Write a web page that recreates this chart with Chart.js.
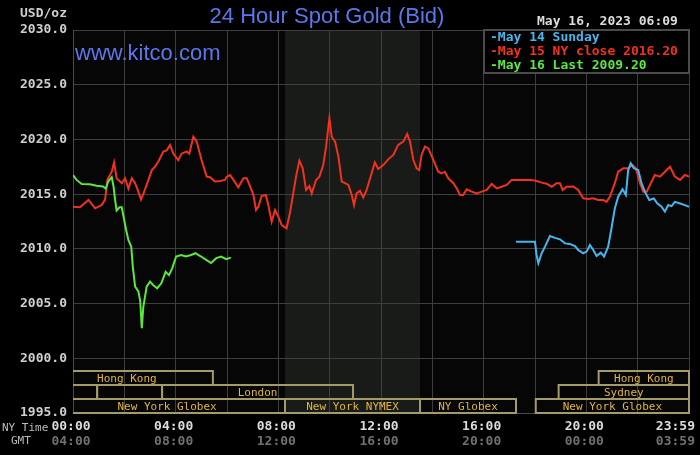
<!DOCTYPE html>
<html>
<head>
<meta charset="utf-8">
<title>24 Hour Spot Gold (Bid)</title>
<script src="https://cdn.jsdelivr.net/npm/chart.js@4.4.0/dist/chart.umd.min.js"></script>
<style>
  html, body { margin: 0; padding: 0; background: #000; }
  #wrap { position: relative; width: 700px; height: 455px; }
</style>
</head>
<body>
<div id="wrap"><canvas id="gold"></canvas></div>
<script>
// Times are NY time in hours (0 = 00:00, 24 = 23:59), values in USD/oz

const sundayTimes = [17.26, 18.0, 18.06, 18.13, 18.26, 18.39, 18.58, 18.78, 18.97, 19.17, 19.36, 19.56,
  19.68, 19.88, 20.01, 20.14, 20.27, 20.4, 20.56, 20.69, 20.85, 20.98, 21.11, 21.24, 21.41, 21.54,
  21.63, 21.73, 21.85, 22.02, 22.15, 22.28, 22.45, 22.63, 22.76, 22.93, 23.06, 23.19, 23.32, 23.45,
  23.65, 23.84, 24.0];
const sundayValues = [2010.66, 2010.66, 2009.44, 2008.68, 2009.6, 2010.2, 2011.17, 2011.0, 2010.87,
  2010.5, 2010.45, 2010.26, 2009.9, 2009.6, 2009.75, 2010.35, 2009.9, 2009.35, 2009.65, 2009.3,
  2010.2, 2011.88, 2013.7, 2014.77, 2015.44, 2014.92, 2017.2, 2017.82, 2017.36, 2017.2, 2016.0,
  2015.23, 2014.47, 2014.6, 2014.16, 2013.85, 2013.4, 2014.0, 2013.9, 2014.3, 2014.15, 2014.0, 2013.85];

const closeTimes = [0.0, 0.27, 0.6, 0.86, 1.12, 1.25, 1.34, 1.51, 1.6, 1.7, 1.9, 2.03, 2.16, 2.29, 2.42,
  2.55, 2.65, 2.77, 2.94, 3.07, 3.19, 3.33, 3.52, 3.65, 3.78, 3.91, 4.1, 4.23, 4.43, 4.53, 4.69, 4.82,
  5.01, 5.21, 5.34, 5.53, 5.73, 5.92, 5.99, 6.12, 6.25, 6.44, 6.64, 6.77, 6.9, 7.03, 7.13, 7.22, 7.35,
  7.51, 7.61, 7.74, 7.87, 8.0, 8.13, 8.32, 8.45, 8.56, 8.69, 8.82, 8.95, 9.08, 9.21, 9.3, 9.47, 9.6,
  9.75, 9.86, 9.99, 10.08, 10.21, 10.34, 10.47, 10.6, 10.73, 10.86, 10.95, 11.05, 11.18, 11.31, 11.44,
  11.57, 11.76, 11.89, 12.09, 12.28, 12.48, 12.67, 12.87, 13.02, 13.13, 13.26, 13.39, 13.49, 13.58,
  13.71, 13.84, 14.04, 14.23, 14.36, 14.49, 14.62, 14.82, 14.95, 15.08, 15.2, 15.34, 15.53, 15.73,
  15.92, 16.12, 16.31, 16.51, 16.7, 16.9, 17.09, 17.41, 17.78, 18.0, 18.26, 18.45, 18.65, 18.84,
  18.97, 19.08, 19.23, 19.49, 19.68, 19.88, 20.07, 20.27, 20.46, 20.66, 20.79, 20.92, 21.11, 21.24,
  21.44, 21.63, 21.8, 21.93, 22.09, 22.22, 22.35, 22.48, 22.67, 22.87, 23.06, 23.26, 23.45, 23.65,
  23.84, 24.0];
const closeValues = [2013.85, 2013.8, 2014.47, 2013.7, 2014.0, 2014.5, 2016.3, 2017.05, 2017.9, 2016.45,
  2016.0, 2016.45, 2015.5, 2016.45, 2016.0, 2015.2, 2014.5, 2015.2, 2016.3, 2017.2, 2017.5, 2018.0,
  2018.9, 2019.0, 2019.5, 2018.7, 2018.1, 2018.7, 2018.9, 2018.7, 2020.25, 2019.8, 2018.1, 2016.6,
  2016.55, 2016.15, 2016.2, 2016.3, 2016.6, 2016.75, 2016.3, 2015.63, 2016.45, 2016.45, 2015.7,
  2014.92, 2013.55, 2013.85, 2014.83, 2014.92, 2014.0, 2012.48, 2013.55, 2012.94, 2012.18, 2011.88,
  2013.25, 2014.77, 2016.6, 2018.06, 2017.36, 2015.38, 2015.74, 2015.07, 2016.3, 2016.6, 2017.66,
  2019.34, 2021.93, 2020.25, 2019.8, 2018.43, 2016.15, 2016.0, 2015.84, 2014.92, 2014.0, 2015.07,
  2015.3, 2014.7, 2015.38, 2016.4, 2017.9, 2017.3, 2017.66, 2018.18, 2018.58, 2019.5, 2019.8, 2020.5,
  2019.8, 2018.12, 2017.36, 2017.2, 2018.58, 2019.34, 2019.2, 2018.12, 2017.05, 2016.9, 2017.05,
  2016.45, 2016.0, 2015.53, 2014.92, 2014.92, 2015.44, 2015.23, 2015.07, 2015.23, 2015.38, 2015.93,
  2015.53, 2015.68, 2015.84, 2016.3, 2016.3, 2016.3, 2016.25, 2016.05, 2015.95, 2015.68, 2016.0,
  2016.0, 2015.38, 2015.68, 2015.7, 2015.38, 2014.62, 2014.55, 2014.62, 2014.47, 2014.47, 2014.3,
  2014.77, 2016.0, 2017.05, 2017.36, 2017.36, 2017.66, 2017.36, 2016.0, 2015.23, 2015.23, 2015.84,
  2016.75, 2016.6, 2017.05, 2017.5, 2016.6, 2016.3, 2016.75, 2016.6];

const lastTimes = [0.0, 0.14, 0.34, 0.66, 0.92, 1.17, 1.28, 1.37, 1.51, 1.58, 1.64, 1.7, 1.81, 1.9, 1.97,
  2.07, 2.16, 2.27, 2.33, 2.42, 2.55, 2.62, 2.68, 2.74, 2.87, 3.0, 3.12, 3.28, 3.44, 3.61, 3.74, 3.86,
  4.02, 4.21, 4.4, 4.6, 4.77, 4.99, 5.19, 5.38, 5.58, 5.77, 5.97, 6.15];
const lastValues = [2016.75, 2016.3, 2015.93, 2015.9, 2015.77, 2015.7, 2015.5, 2016.15, 2016.55, 2015.7,
  2014.47, 2013.5, 2013.8, 2013.8, 2012.94, 2011.73, 2010.8, 2010.2, 2008.37, 2006.55, 2006.1, 2005.2,
  2002.74, 2004.7, 2006.55, 2007.0, 2006.7, 2006.4, 2006.85, 2007.9, 2007.6, 2008.2, 2009.3, 2009.44,
  2009.3, 2009.44, 2009.6, 2009.3, 2009.0, 2008.7, 2009.15, 2009.3, 2009.05, 2009.2];

const seriesLabels = ['May 14 Sunday', 'May 15 NY close 2016.20', 'May 16 Last 2009.20'];

// trading sessions along the bottom (row 1 = top row)
const sessionNames = ['Hong Kong', '', '', 'London', 'New York Globex', 'New York NYMEX', 'NY Globex',
  'New York Globex', 'Sydney', 'Hong Kong'];
const sessionRows = [1, 2, 2, 2, 3, 3, 3, 3, 2, 1];
const sessionOpen = [-1.25, -3, 0.94, 3.47, -0.93, 8.26, 13.52, 18.03, 18.92, 20.48];
const sessionClose = [5.45, 0.94, 3.47, 10.91, 8.26, 13.52, 17.26, 24, 24, 24];
const nymexHours = [8.26, 13.52];

const yTicks = [1995, 2000, 2005, 2010, 2015, 2020, 2025, 2030];
const nyLabels = ['00:00', '04:00', '08:00', '12:00', '16:00', '20:00', '23:59'];
const gmtLabels = ['04:00', '08:00', '12:00', '16:00', '20:00', '00:00', '03:59'];
const labelHours = [0, 4, 8, 12, 16, 20, 24];

const stamp = 'May 16, 2023 06:09';

const MONO = '"DejaVu Sans Mono", monospace';
const SANS = '"Liberation Sans", Arial, sans-serif';

const toPoints = (times, values) => times.map((t, i) => ({ x: t, y: values[i] }));

// Background, shading, session boxes, legend and texts
const kitcoDecor = {
  id: 'kitcoDecor',
  beforeDraw(chart) {
    const { ctx, chartArea: a, scales: { x } } = chart;
    ctx.save();
    ctx.fillStyle = '#000';
    ctx.fillRect(0, 0, chart.width, chart.height);
    ctx.fillStyle = '#060606';
    ctx.fillRect(a.left, a.top, a.right - a.left, a.bottom - a.top);
    const x0 = x.getPixelForValue(nymexHours[0]);
    const x1 = x.getPixelForValue(nymexHours[1]);
    ctx.fillStyle = '#191b19';
    ctx.fillRect(x0, a.top, x1 - x0, a.bottom - a.top);
    ctx.restore();
  },
  afterDatasetsDraw(chart) {
    const { ctx, chartArea: a, scales: { x } } = chart;
    const rowH = 14;

    // session boxes
    ctx.save();
    ctx.beginPath();
    ctx.rect(a.left, a.top, a.right - a.left + 1, a.bottom - a.top + 2);
    ctx.clip();
    ctx.lineWidth = 2;
    ctx.strokeStyle = '#a39b69';
    ctx.font = '11px ' + MONO;
    ctx.fillStyle = '#e2b53c';
    ctx.textAlign = 'center';
    ctx.textBaseline = 'middle';
    sessionNames.forEach((name, i) => {
      const top = a.bottom - (4 - sessionRows[i]) * rowH;
      const left = x.getPixelForValue(sessionOpen[i]);
      const right = Math.min(x.getPixelForValue(sessionClose[i]), a.right);
      ctx.strokeRect(left, top, right - left, rowH);
      if (name) {
        const mid = (left + x.getPixelForValue(sessionClose[i])) / 2;
        ctx.fillText(name, Math.min(mid, (left + right) / 2), top + rowH / 2 + 1);
      }
    });
    ctx.restore();

    // legend box, top right
    const boxL = 484, boxT = a.top, boxW = a.right - boxL, boxH = 43;
    ctx.save();
    ctx.fillStyle = '#000';
    ctx.fillRect(boxL, boxT, boxW, boxH);
    ctx.strokeStyle = '#4a4a4a';
    ctx.lineWidth = 2;
    ctx.strokeRect(boxL, boxT, boxW, boxH);
    ctx.font = 'bold 13px ' + MONO;
    ctx.textBaseline = 'middle';
    ctx.textAlign = 'left';
    chart.data.datasets.forEach((ds, i) => {
      ctx.fillStyle = ds.borderColor;
      ctx.fillText('-' + ds.label, boxL + 6, boxT + 8 + i * 14);
    });
    ctx.restore();
  },
  afterDraw(chart) {
    const { ctx, chartArea: a, scales: { x } } = chart;
    ctx.save();
    ctx.textBaseline = 'middle';

    ctx.font = '22px ' + SANS;
    ctx.fillStyle = '#5a78ea';
    ctx.textAlign = 'center';
    ctx.fillText('24 Hour Spot Gold (Bid)', 327, 17);
    ctx.textAlign = 'left';
    ctx.fillText('www.kitco.com', 75, 54);

    ctx.font = 'bold 13px ' + MONO;
    ctx.fillStyle = '#cfcfcf';
    ctx.fillText('USD/oz', 20, 14);
    ctx.fillStyle = '#dcdcdc';
    ctx.fillText(stamp, 537, 22);

    // x labels, NY time and GMT rows
    labelHours.forEach((h, i) => {
      const px = x.getPixelForValue(h);
      const last = i === labelHours.length - 1;
      ctx.textAlign = last ? 'right' : 'center';
      const tx = last ? px + 6 : px - 2;
      ctx.fillStyle = '#dcdcdc';
      ctx.fillText(nyLabels[i], tx, a.bottom + 14);
      ctx.fillStyle = '#707070';
      ctx.fillText(gmtLabels[i], tx, a.bottom + 29);
    });

    ctx.font = '11px ' + MONO;
    ctx.fillStyle = '#bdbdbd';
    ctx.textAlign = 'left';
    ctx.fillText('NY Time', 2, a.bottom + 15);
    ctx.fillText('GMT', 11, a.bottom + 28);
    ctx.restore();
  }
};

const datasets = [
  {
    label: seriesLabels[0],
    data: toPoints(sundayTimes, sundayValues),
    borderColor: '#48b6ee',
    order: 1
  },
  {
    label: seriesLabels[1],
    data: toPoints(closeTimes, closeValues),
    borderColor: '#f0321e',
    order: 2
  },
  {
    label: seriesLabels[2],
    data: toPoints(lastTimes, lastValues),
    borderColor: '#5ce83c',
    order: 0
  }
].map(ds => Object.assign(ds, { borderWidth: 2, pointRadius: 0, tension: 0, fill: false }));

new Chart(document.getElementById('gold').getContext('2d'), {
  type: 'line',
  data: { datasets },
  options: {
    responsive: true,
    maintainAspectRatio: false,
    animation: false,
    events: [],
    layout: { padding: { top: 30, right: 11, bottom: 42, left: 0 } },
    plugins: {
      legend: { display: false },
      tooltip: { enabled: false }
    },
    scales: {
      x: {
        type: 'linear',
        min: 0,
        max: 24,
        afterFit: (scale) => { scale.height = 0; },
        grid: { color: '#3e3e3e', lineWidth: 1, drawTicks: false },
        border: { color: '#4a4a4a' },
        ticks: { stepSize: 2, display: false }
      },
      y: {
        min: yTicks[0],
        max: yTicks[yTicks.length - 1],
        afterFit: (scale) => { scale.width = 73; },
        afterBuildTicks: (scale) => { scale.ticks = yTicks.map(v => ({ value: v })); },
        grid: { color: '#3e3e3e', lineWidth: 1, drawTicks: false },
        border: { color: '#4a4a4a' },
        ticks: {
          padding: 6,
          color: '#cfcfcf',
          font: { family: MONO, size: 13, weight: 'bold' },
          callback: (value) => Number(value).toFixed(1)
        }
      }
    }
  },
  plugins: [kitcoDecor]
});
</script>
</body>
</html>
